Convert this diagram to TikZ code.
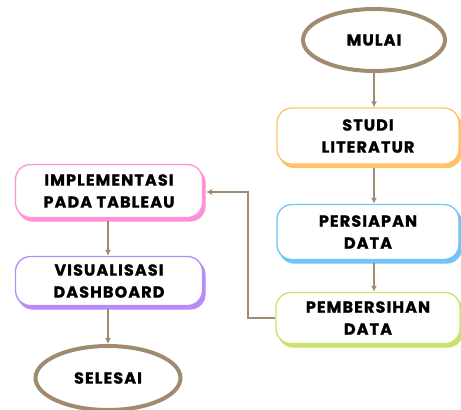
\documentclass[tikz,border=0pt]{standalone}
\usepackage{fontspec}
\setmainfont{Poppins}[LetterSpace=7,BoldFont={* Bold},BoldFeatures={FakeBold=1.3}]
\usetikzlibrary{arrows.meta,shapes.geometric,shadows}
\definecolor{brownline}{HTML}{A08B70}
\definecolor{orangeline}{HTML}{FFC46A}
\definecolor{blueline}{HTML}{72C3F6}
\definecolor{greenline}{HTML}{C8E46E}
\definecolor{pinkline}{HTML}{FF92D6}
\definecolor{purpleline}{HTML}{B68CF6}
\begin{document}
\begin{tikzpicture}[x=1pt,y=-1pt,
    every node/.style={font=\fontsize{16}{22}\selectfont\bfseries,align=center},
    term/.style={ellipse,draw=brownline,line width=4pt,fill=white,minimum width=142pt,minimum height=62pt},
    stepbox/.style={rounded corners=15pt,draw=#1,line width=1.3pt,fill=white,
      copy shadow={shadow xshift=2.5pt,shadow yshift=-3.5pt,fill=#1,draw=#1}},
    flow/.style={-{Latex[length=6pt,width=6pt]},brownline,line width=1.8pt}]
  \useasboundingbox (0,0) rectangle (461,410);
  \node[term] (mulai) at (374,40) {MULAI};
  \node[stepbox=orangeline,minimum width=182pt,minimum height=56pt] (studi) at (368,136) {STUDI\\LITERATUR};
  \node[stepbox=blueline,minimum width=182pt,minimum height=55pt] (persiapan) at (368,232) {PERSIAPAN\\DATA};
  \node[stepbox=greenline,minimum width=184pt,minimum height=51pt] (pembersihan) at (368,318) {PEMBERSIHAN\\DATA};
  \node[stepbox=pinkline,minimum width=187pt,minimum height=53pt] (implementasi) at (109,191) {IMPLEMENTASI\\PADA TABLEAU};
  \node[stepbox=purpleline,minimum width=187pt,minimum height=49pt] (visualisasi) at (109,281) {VISUALISASI\\DASHBOARD};
  \node[term,minimum width=145pt,minimum height=64pt] (selesai) at (108,378) {SELESAI};
  \draw[flow] (mulai.south) -- (mulai.south |- studi.north);
  \draw[flow] (mulai.south |- studi.south) ++(0,3) -- (mulai.south |- persiapan.north);
  \draw[flow] (mulai.south |- persiapan.south) ++(0,3) -- (mulai.south |- pembersihan.north);
  \draw[flow] (pembersihan.west) -| (248,192) -- ([xshift=3pt]implementasi.east |- 0,192);
  \draw[flow] (selesai.north |- implementasi.south) ++(0,3) -- (selesai.north |- visualisasi.north);
  \draw[flow] (selesai.north |- visualisasi.south) ++(0,3) -- (selesai.north);
\end{tikzpicture}
\end{document}
